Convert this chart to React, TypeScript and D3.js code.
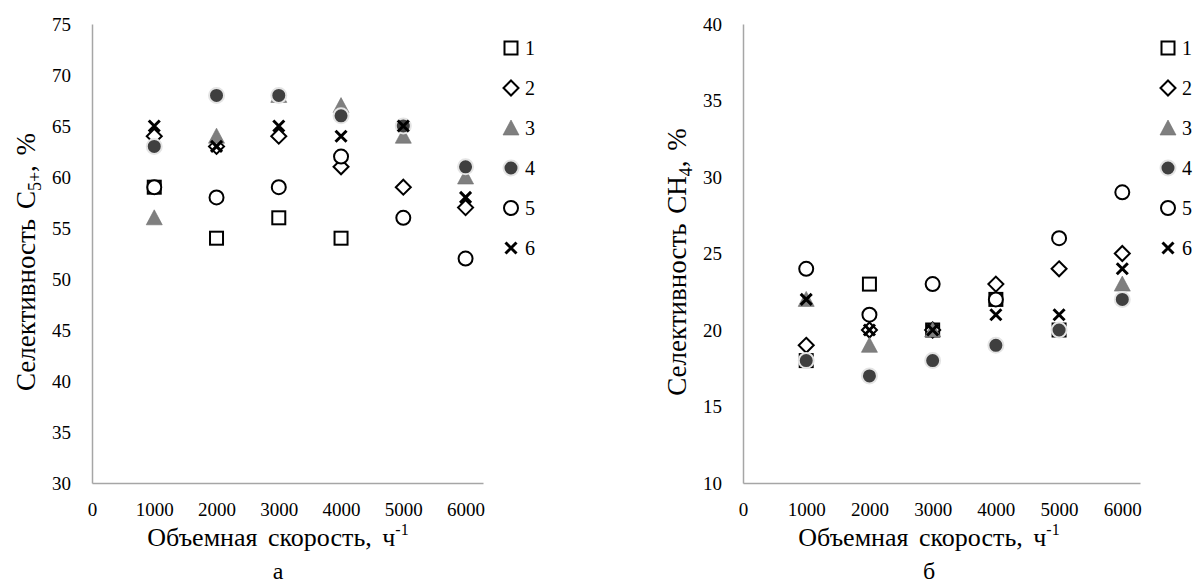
import React, { useRef, useEffect } from 'react';
import * as d3 from 'd3';

// объемная скорость, ч-1
const speeds = [1000, 2000, 3000, 4000, 5000, 6000];
const xTicks = [0, 1000, 2000, 3000, 4000, 5000, 6000];
const seriesNames = ['1', '2', '3', '4', '5', '6'];
const markerTypes = ['square', 'diamond', 'triangle', 'dot', 'circle', 'cross'];

// (а) селективность C5+, %
const c5Ticks = [30, 35, 40, 45, 50, 55, 60, 65, 70, 75];
const c5S1 = [59, 54, 56, 54, null, null];
const c5S2 = [64, 63, 64, 61, 59, 57];
const c5S3 = [56, 64, 68, 67, 64, 60];
const c5S4 = [63, 68, 68, 66, 65, 61];
const c5S5 = [59, 58, 59, 62, 56, 52];
const c5S6 = [65, 63, 65, 64, 65, 58];

// (б) селективность CH4, %
const ch4Ticks = [10, 15, 20, 25, 30, 35, 40];
const ch4S1 = [18, 23, 20, 22, 20, null];
const ch4S2 = [19, 20, 20, 23, 24, 25];
const ch4S3 = [22, 19, 20, null, null, 23];
const ch4S4 = [18, 17, 18, 19, 20, 22];
const ch4S5 = [24, 21, 23, 22, 26, 29];
const ch4S6 = [22, 20, 20, 21, 21, 24];

const FONT = 'Liberation Serif, serif';

function drawMarker(g, type) {
  if (type === 'square') {
    g.append('rect').attr('x', -6.5).attr('y', -6.5).attr('width', 13).attr('height', 13)
      .attr('fill', 'white').attr('stroke', '#000').attr('stroke-width', 2);
  } else if (type === 'diamond') {
    g.append('path').attr('d', 'M0,-7.5L7.5,0L0,7.5L-7.5,0Z')
      .attr('fill', 'white').attr('stroke', '#000').attr('stroke-width', 2);
  } else if (type === 'triangle') {
    g.append('path').attr('d', 'M0,-8L8,7L-8,7Z')
      .attr('fill', '#7f7f7f').attr('stroke', '#6e6e6e').attr('stroke-width', 0.6);
  } else if (type === 'dot') {
    g.append('circle').attr('r', 7.5)
      .attr('fill', '#3f3f3f').attr('stroke', '#e4e4e4').attr('stroke-width', 2);
  } else if (type === 'circle') {
    g.append('circle').attr('r', 7)
      .attr('fill', 'white').attr('stroke', '#000').attr('stroke-width', 2);
  } else {
    g.append('path').attr('d', 'M-5.5,-5.5L5.5,5.5M-5.5,5.5L5.5,-5.5')
      .attr('fill', 'none').attr('stroke', '#000').attr('stroke-width', 3);
  }
}

function drawPanel(svg, p) {
  const x = d3.scaleLinear().domain([0, 6280]).range([p.x0, p.x1]);
  const y = d3.scaleLinear().domain(p.yDomain).range([483, 24]);

  const yAxis = svg.append('g')
    .attr('transform', `translate(${p.x0},0)`)
    .call(d3.axisLeft(y).tickValues(p.yTicks).tickFormat(d3.format('d'))
      .tickSize(0).tickSizeOuter(0).tickPadding(21));
  const xAxis = svg.append('g')
    .attr('transform', `translate(0,483)`)
    .call(d3.axisBottom(x).tickValues(xTicks).tickFormat(d3.format('d'))
      .tickSize(0).tickSizeOuter(0).tickPadding(20));

  [yAxis, xAxis].forEach(ax => {
    ax.attr('font-family', FONT).attr('font-size', 19);
    ax.select('.domain').attr('stroke', '#a6a6a6').attr('stroke-width', 1.5);
    ax.selectAll('text').attr('fill', '#000');
  });

  // points
  p.series.forEach((vals, si) => {
    vals.forEach((v, i) => {
      if (v == null) return;
      const m = svg.append('g').attr('transform', `translate(${x(speeds[i])},${y(v)})`);
      drawMarker(m, markerTypes[si]);
    });
  });

  // legend
  seriesNames.forEach((name, i) => {
    const ly = 48 + i * 40;
    const m = svg.append('g').attr('transform', `translate(${p.legendX},${ly})`);
    drawMarker(m, markerTypes[i]);
    svg.append('text').attr('x', p.legendX + 14).attr('y', ly + 7)
      .attr('font-family', FONT).attr('font-size', 20).text(name);
  });

  // y title
  const yt = svg.append('text')
    .attr('transform', `translate(${p.yTitleX},262) rotate(-90)`)
    .attr('text-anchor', 'middle')
    .attr('font-family', FONT).attr('font-size', 27).attr('word-spacing', 3);
  yt.append('tspan').text(p.yTitleMain);
  yt.append('tspan').attr('font-size', 18).attr('dy', 6).text(p.yTitleSub);
  yt.append('tspan').attr('dy', -6).text(', %');

  // x title
  const xt = svg.append('text')
    .attr('x', p.xTitleX).attr('y', 546)
    .attr('text-anchor', 'middle')
    .attr('font-family', FONT).attr('font-size', 26).attr('word-spacing', 4);
  xt.append('tspan').text('Объемная скорость, ч');
  xt.append('tspan').attr('font-size', 16).attr('dy', -11).text('-1');

  svg.append('text').attr('x', p.xTitleX).attr('y', 579)
    .attr('text-anchor', 'middle')
    .attr('font-family', FONT).attr('font-size', 24).text(p.letter);
}

export default function App() {
  const ref = useRef(null);

  useEffect(() => {
    const svg = d3.select(ref.current);
    svg.selectAll('*').remove();

    drawPanel(svg, {
      x0: 92, x1: 483, yDomain: [30, 75], yTicks: c5Ticks,
      series: [c5S1, c5S2, c5S3, c5S4, c5S5, c5S6],
      legendX: 511, yTitleX: 35, yTitleMain: 'Селективность C', yTitleSub: '5+',
      xTitleX: 278, letter: 'а'
    });
    drawPanel(svg, {
      x0: 743, x1: 1140, yDomain: [10, 40], yTicks: ch4Ticks,
      series: [ch4S1, ch4S2, ch4S3, ch4S4, ch4S5, ch4S6],
      legendX: 1168, yTitleX: 686, yTitleMain: 'Селективность CH', yTitleSub: '4',
      xTitleX: 929, letter: 'б'
    });
  }, []);

  return (
    <div style={{ position: 'fixed', left: 0, top: 0 }}>
      <svg ref={ref} width={1197} height={585} style={{ display: 'block', background: 'white' }} />
    </div>
  );
}
